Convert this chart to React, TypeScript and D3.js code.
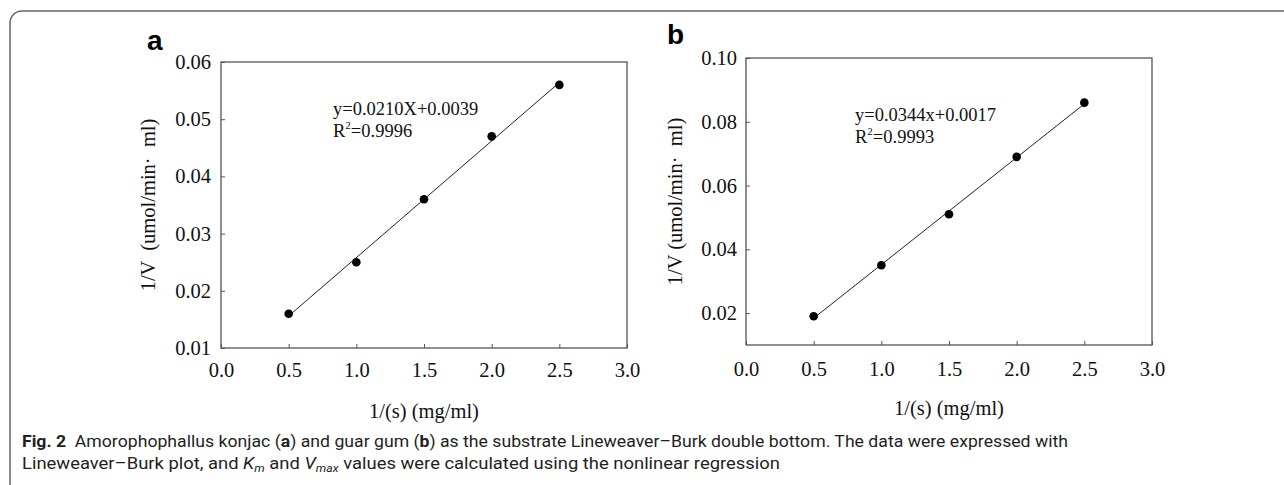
import { useEffect, useRef } from "react";
import * as d3 from "d3";

// 1/[S] values, shared by both panels
const substrateInv = [0.5, 1.0, 1.5, 2.0, 2.5];
const xTicks = [0, 0.5, 1.0, 1.5, 2.0, 2.5, 3.0];

// panel a: konjac
const konjacInvV = [0.016, 0.025, 0.036, 0.047, 0.056];
const konjacYTicks = [0.01, 0.02, 0.03, 0.04, 0.05, 0.06];
const konjacEquation = "y=0.0210X+0.0039";
const konjacR2 = "=0.9996";

// panel b: guar gum
const guarInvV = [0.019, 0.035, 0.051, 0.069, 0.086];
const guarYTicks = [0.02, 0.04, 0.06, 0.08, 0.1];
const guarEquation = "y=0.0344x+0.0017";
const guarR2 = "=0.9993";

const xTitle = "1/(s) (mg/ml)";
const yTitleA = "1/V  (umol/min·  ml)";
const yTitleB = "1/V (umol/min·  ml)";

const SERIF = "'Liberation Serif', 'Times New Roman', serif";
const SANS = "'Liberation Sans', Arial, sans-serif";

interface PanelCfg {
  label: string;
  x0: number;
  x1: number;
  y0: number;
  y1: number;
  yDomain: [number, number];
  yTicks: number[];
  values: number[];
  equation: string;
  r2: string;
  eqX: number;
  eqY: number;
  yTitle: string;
  yTitleX: number;
  labelX: number;
  labelY: number;
  xPad: number;
  yPad: number;
  xTitleY: number;
}

const panels: PanelCfg[] = [
  {
    label: "a",
    x0: 221,
    x1: 627,
    y0: 62,
    y1: 348,
    yDomain: [0.01, 0.06],
    yTicks: konjacYTicks,
    values: konjacInvV,
    equation: konjacEquation,
    r2: konjacR2,
    eqX: 333,
    eqY: 115,
    yTitle: yTitleA,
    yTitleX: 155,
    labelX: 147,
    labelY: 50,
    xPad: 14,
    yPad: 10,
    xTitleY: 418,
  },
  {
    label: "b",
    x0: 746,
    x1: 1152,
    y0: 58,
    y1: 345,
    yDomain: [0.01, 0.1],
    yTicks: guarYTicks,
    values: guarInvV,
    equation: guarEquation,
    r2: guarR2,
    eqX: 855,
    eqY: 121,
    yTitle: yTitleB,
    yTitleX: 682,
    labelX: 667,
    labelY: 44,
    xPad: 16,
    yPad: 9,
    xTitleY: 415,
  },
];

function drawPanel(root: d3.Selection<SVGGElement, unknown, null, undefined>, p: PanelCfg) {
  const x = d3.scaleLinear().domain([0, 3]).range([p.x0, p.x1]);
  const y = d3.scaleLinear().domain(p.yDomain).range([p.y1, p.y0]);
  const g = root.append("g");

  // x axis
  g.append("g")
    .attr("transform", `translate(0,${p.y1})`)
    .call(
      d3
        .axisBottom(x)
        .tickValues(xTicks)
        .tickFormat((d) => d3.format(".1f")(d as number))
        .tickSizeInner(-4)
        .tickSizeOuter(0)
        .tickPadding(p.xPad)
    )
    .call((a) => a.select(".domain").remove())
    .call((a) => a.selectAll(".tick line").attr("stroke", "#555"))
    .call((a) =>
      a.selectAll("text").attr("font-family", SERIF).attr("font-size", 20.5).attr("fill", "#111")
    );

  // y axis
  g.append("g")
    .attr("transform", `translate(${p.x0},0)`)
    .call(
      d3
        .axisLeft(y)
        .tickValues(p.yTicks)
        .tickFormat((d) => d3.format(".2f")(d as number))
        .tickSizeInner(-4)
        .tickSizeOuter(0)
        .tickPadding(p.yPad)
    )
    .call((a) => a.select(".domain").remove())
    .call((a) => a.selectAll(".tick line").attr("stroke", "#555"))
    .call((a) =>
      a.selectAll("text").attr("font-family", SERIF).attr("font-size", 20.5).attr("fill", "#111")
    );

  // frame
  g.append("rect")
    .attr("x", p.x0)
    .attr("y", p.y0)
    .attr("width", p.x1 - p.x0)
    .attr("height", p.y1 - p.y0)
    .attr("fill", "none")
    .attr("stroke", "#555")
    .attr("stroke-width", 1.3);

  // least squares fit
  const mx = d3.mean(substrateInv) as number;
  const my = d3.mean(p.values) as number;
  const sxy = d3.sum(substrateInv, (v, i) => (v - mx) * (p.values[i] - my));
  const sxx = d3.sum(substrateInv, (v) => (v - mx) * (v - mx));
  const slope = sxy / sxx;
  const icpt = my - slope * mx;
  const ends = d3.extent(substrateInv) as [number, number];
  const line = d3
    .line<number>()
    .x((d) => x(d))
    .y((d) => y(slope * d + icpt));
  g.append("path")
    .datum(ends)
    .attr("d", line)
    .attr("fill", "none")
    .attr("stroke", "#222")
    .attr("stroke-width", 1);

  g.selectAll(".pt")
    .data(p.values)
    .enter()
    .append("circle")
    .attr("cx", (_d, i) => x(substrateInv[i]))
    .attr("cy", (d) => y(d))
    .attr("r", 4.3)
    .attr("fill", "#000");

  // equation
  g.append("text")
    .attr("font-family", SERIF)
    .attr("font-size", 18.5)
    .attr("fill", "#111")
    .attr("x", p.eqX)
    .attr("y", p.eqY)
    .text(p.equation);
  const r2 = g
    .append("text")
    .attr("font-family", SERIF)
    .attr("font-size", 18.5)
    .attr("fill", "#111")
    .attr("x", p.eqX)
    .attr("y", p.eqY + 22);
  r2.append("tspan").text("R");
  r2.append("tspan").attr("font-size", 11).attr("dy", -8).text("2");
  r2.append("tspan").attr("dy", 8).text(p.r2);

  // titles
  g.append("text")
    .attr("transform", `translate(${p.yTitleX},${(p.y0 + p.y1) / 2}) rotate(-90)`)
    .attr("text-anchor", "middle")
    .attr("font-family", SERIF)
    .attr("font-size", 20.5)
    .attr("fill", "#111")
    .style("white-space", "pre")
    .text(p.yTitle);

  g.append("text")
    .attr("x", (p.x0 + p.x1) / 2)
    .attr("y", p.xTitleY)
    .attr("text-anchor", "middle")
    .attr("font-family", SERIF)
    .attr("font-size", 20.5)
    .attr("fill", "#111")
    .text(xTitle);

  g.append("text")
    .attr("x", p.labelX)
    .attr("y", p.labelY)
    .attr("font-family", SANS)
    .attr("font-weight", "bold")
    .attr("font-size", 28)
    .attr("fill", "#000")
    .text(p.label);
}

export default function App() {
  const ref = useRef<SVGGElement>(null);

  useEffect(() => {
    if (!ref.current) return;
    const root = d3.select(ref.current);
    root.selectAll("*").remove();
    panels.forEach((p) => drawPanel(root, p));
  }, []);

  const capStyle = {
    fontFamily: "Roboto, 'Noto Sans', sans-serif",
    fontSize: 16.5,
    fill: "#231f20",
    whiteSpace: "pre" as const,
  };

  return (
    <svg
      width={1284}
      height={485}
      style={{ position: "absolute", left: 0, top: 0, display: "block", background: "#fff" }}
    >
      {/* outer rounded border, runs off the right and bottom edges */}
      <rect x={10} y={11} width={1320} height={520} rx={12} fill="none" stroke="#666" strokeWidth={1.5} />
      <g ref={ref} />
      <text x={22} y={447} style={capStyle} textLength={1046} lengthAdjust="spacingAndGlyphs">
        <tspan fontWeight="bold">Fig. 2</tspan>
        <tspan>{"  Amorophophallus konjac ("}</tspan>
        <tspan fontWeight="bold">a</tspan>
        <tspan>{") and guar gum ("}</tspan>
        <tspan fontWeight="bold">b</tspan>
        <tspan>{") as the substrate Lineweaver–Burk double bottom. The data were expressed with"}</tspan>
      </text>
      <text x={22} y={469} style={capStyle} textLength={758} lengthAdjust="spacingAndGlyphs">
        <tspan>{"Lineweaver–Burk plot, and "}</tspan>
        <tspan fontStyle="italic">K</tspan>
        <tspan fontStyle="italic" fontSize={11} dy={3}>m</tspan>
        <tspan dy={-3}>{" and "}</tspan>
        <tspan fontStyle="italic">V</tspan>
        <tspan fontStyle="italic" fontSize={11} dy={3}>max</tspan>
        <tspan dy={-3}>{" values were calculated using the nonlinear regression"}</tspan>
      </text>
    </svg>
  );
}
